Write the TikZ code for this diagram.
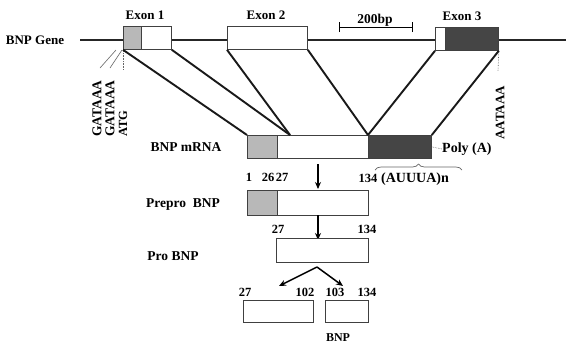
\documentclass[tikz,border=0pt]{standalone}
\usepackage{fontspec}
\setmainfont{Liberation Serif}
\usetikzlibrary{arrows.meta,decorations.pathreplacing}
\definecolor{lgray}{HTML}{B8B8B8}
\definecolor{dgray}{HTML}{454545}
\tikzset{
  bx/.style={draw=black!75,line width=0.8pt,inner sep=0pt,anchor=north west},
  conn/.style={line width=1.9pt,black!90},
  thinl/.style={line width=0.6pt,black!60},
  arr/.style={line width=1.5pt,-{Stealth[length=7pt,width=6pt]}},
  lab/.style={font=\bfseries\fontsize{13}{15}\selectfont,inner sep=0pt},
  blab/.style={font=\bfseries\fontsize{13.5}{15}\selectfont,inner sep=0pt},
  num/.style={font=\bfseries\fontsize{12.5}{14}\selectfont,inner sep=0pt},
}
\begin{document}
\begin{tikzpicture}[x=1pt,y=-1pt]
\useasboundingbox (0,0) rectangle (566,349);
% gene line
\coordinate (gl) at (80,40);
\coordinate (gr) at (566,40);
\draw[line width=1.8pt,black!85] (gl) -- (gr);
\node[lab] (gene) at (35,40) {BNP Gene};
% exon boxes
\node[bx,fill=lgray,minimum width=18pt,minimum height=23pt] (e1g) at (123,26) {};
\node[bx,fill=white,minimum width=30pt,minimum height=23pt] (e1w) at (141,26) {};
\node[bx,fill=white,minimum width=80pt,minimum height=23pt] (e2) at (227,26) {};
\node[bx,fill=white,minimum width=10pt,minimum height=23pt] (e3w) at (435,27) {};
\node[bx,fill=dgray,minimum width=53pt,minimum height=23pt] (e3d) at (445,27) {};
\node[lab] (x1) at (145,15) {Exon 1};
\node[lab] (x2) at (266,15) {Exon 2};
\node[lab] (x3) at (462,16) {Exon 3};
% scale bar
\node[font=\bfseries\fontsize{13.5}{15}\selectfont,inner sep=0pt] (sb) at (375,20) {200bp};
\coordinate (sbl) at (339,27);
\coordinate (sbr) at (412,27);
\draw[line width=0.9pt] (sbl) -- (sbr);
\draw[line width=0.9pt] ([yshift=-5pt]sbl) -- ([yshift=5pt]sbl);
\draw[line width=0.9pt] ([yshift=-5pt]sbr) -- ([yshift=5pt]sbr);
% promoter marks
\coordinate (p1a) at (100,68); \coordinate (p1b) at (116,50);
\coordinate (p2a) at (110,68); \coordinate (p2b) at (122,50);
\draw[thinl] (p1a) -- (p1b);
\draw[thinl] (p2a) -- (p2b);
\coordinate (v1) at (123,70);
\draw[thinl,densely dotted] (e1g.south west) -- (v1);
\coordinate (v3) at (498,71);
\draw[thinl,densely dotted] (e3d.south east) -- (v3);
\node[font=\bfseries\fontsize{13.5}{15}\selectfont,inner sep=0pt,rotate=90,anchor=west] (g1) at (97,137) {GATAAA};
\node[font=\bfseries\fontsize{13.5}{15}\selectfont,inner sep=0pt,rotate=90,anchor=west] (g2) at (110,137) {GATAAA};
\node[font=\bfseries\fontsize{12.5}{15}\selectfont,inner sep=0pt,rotate=90,anchor=west] (atg) at (123,137) {ATG};
\node[font=\bfseries\fontsize{13}{15}\selectfont,inner sep=0pt,rotate=90,anchor=west] (aat) at (500,140) {AATAAA};
% mRNA
\node[blab] (ml) at (186,147) {BNP mRNA};
\node[bx,fill=lgray,minimum width=30pt,minimum height=23pt] (mg) at (247,135) {};
\node[bx,fill=white,minimum width=91pt,minimum height=23pt] (mw) at (277,135) {};
\node[bx,fill=dgray,minimum width=63pt,minimum height=23pt] (md) at (368,135) {};
\node[font=\bfseries\fontsize{14}{16}\selectfont,inner sep=0pt,anchor=west] (poly) at (442,149) {Poly (A)};
\draw[thinl,densely dotted] (md.east) -- (poly.west);
\draw[black!60,line width=0.7pt,decorate,decoration={brace,amplitude=6pt}] (375,170) -- (462,170);
\node[font=\bfseries\fontsize{14}{16}\selectfont,inner sep=0pt] (au) at (415,179) {(AUUUA)n};
% exon connectors
\coordinate (mk) at (290,135);
\draw[conn] (e1g.south west) -- (mg.north west);
\draw[conn] (e1w.south east) -- (mk);
\draw[conn] (e2.south west) -- (mk);
\draw[conn] (e2.south east) -- (md.north west);
\draw[conn] (e3w.south west) -- (md.north west);
\draw[conn] (e3d.south east) -- (md.north east);
% prepro
\coordinate (a1s) at (318,164);
\coordinate (a1e) at (318,189);
\draw[arr] (a1s) -- (a1e);
\node[num] (n1) at (249,177) {1};
\node[num] (n26) at (268,177) {26};
\node[num] (n27a) at (282,177) {27};
\node[num] (n134a) at (368,178) {134};
\node[blab] (ppl) at (183,205) {Prepro\ \ BNP};
\node[bx,fill=lgray,minimum width=30pt,minimum height=25pt] (pg) at (247,190) {};
\node[bx,fill=white,minimum width=91pt,minimum height=25pt] (pw) at (277,190) {};
% pro
\coordinate (a2s) at (318,215);
\coordinate (a2e) at (318,240);
\draw[arr] (a2s) -- (a2e);
\node[num] (n27b) at (278,229) {27};
\node[num] (n134b) at (367,229) {134};
\node[blab] (prl) at (173,256) {Pro BNP};
\node[bx,fill=white,minimum width=92pt,minimum height=24pt] (pro) at (276,238) {};
% split
\coordinate (ap) at (317,267);
\coordinate (al) at (279,286);
\coordinate (ar) at (343,286);
\draw[arr] (ap) -- (al);
\draw[arr] (ap) -- (ar);
\node[num] (n27c) at (245,292) {27};
\node[num] (n102) at (305,292) {102};
\node[num] (n103) at (335,292) {103};
\node[num] (n134c) at (367,292) {134};
\node[bx,fill=white,minimum width=70pt,minimum height=22pt] (b1) at (243,300) {};
\node[bx,fill=white,minimum width=43pt,minimum height=22pt] (b2) at (325,300) {};
\node[font=\bfseries\fontsize{12}{14}\selectfont,inner sep=0pt] (bnp) at (338,338) {BNP};
\end{tikzpicture}
\end{document}
